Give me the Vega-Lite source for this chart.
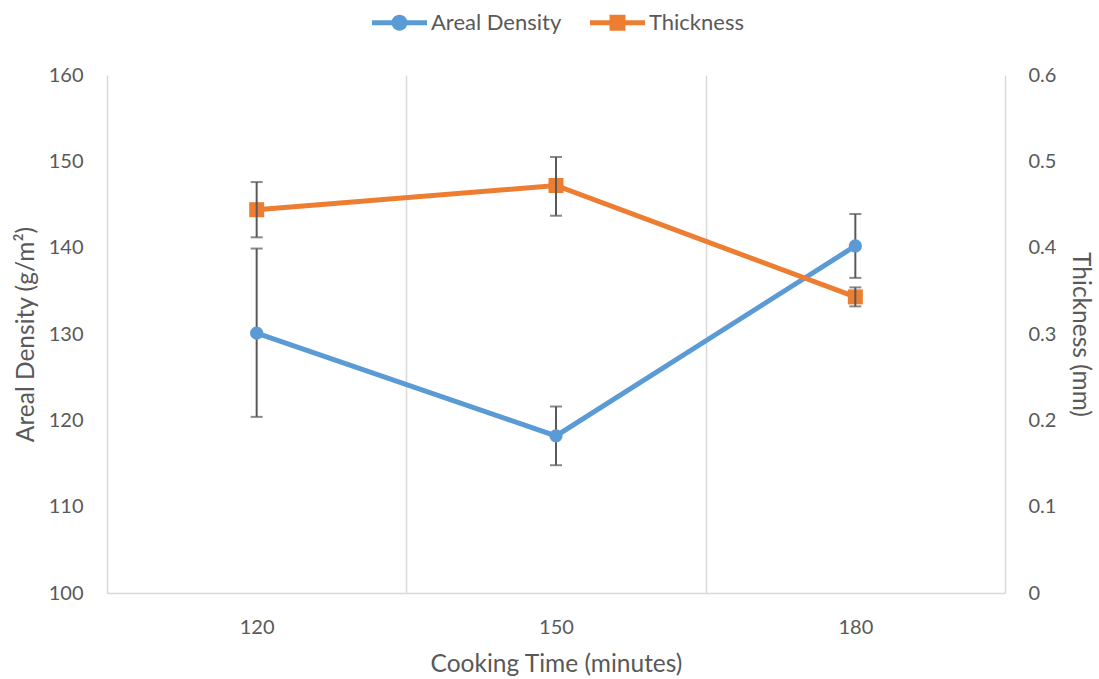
{
  "$schema": "https://vega.github.io/schema/vega-lite/v6.json",
  "width": 898,
  "height": 518,
  "autosize": "none",
  "padding": {"left": 107, "top": 75, "right": 94, "bottom": 86},
  "background": "white",
  "config": {
    "font": "Lato",
    "view": {"stroke": null},
    "axis": {
      "labelColor": "#595959",
      "titleColor": "#595959",
      "labelFontSize": 20,
      "titleFontSize": 24.5,
      "titleFontWeight": "normal",
      "labelFont": "Lato",
      "titleFont": "Lato"
    }
  },
  "data": {
    "values": [
      {"time": 120, "series": "Areal Density", "value": 130.1, "lo": 120.4, "hi": 139.9},
      {"time": 150, "series": "Areal Density", "value": 118.2, "lo": 114.8, "hi": 121.6},
      {"time": 180, "series": "Areal Density", "value": 140.2, "lo": 136.5, "hi": 143.9},
      {"time": 120, "series": "Thickness", "value": 0.444, "lo": 0.412, "hi": 0.476},
      {"time": 150, "series": "Thickness", "value": 0.472, "lo": 0.437, "hi": 0.505},
      {"time": 180, "series": "Thickness", "value": 0.343, "lo": 0.332, "hi": 0.354}
    ]
  },
  "encoding": {
    "x": {
      "field": "time",
      "type": "quantitative",
      "scale": {"domain": [105, 195], "nice": false, "zero": false},
      "axis": {
        "title": "Cooking Time (minutes)",
        "values": [105, 120, 135, 150, 165, 180, 195],
        "labelExpr": "datum.value % 30 == 0 ? datum.label : ''",
        "ticks": false,
        "grid": true,
        "gridColor": "#D9D9D9",
        "gridWidth": 1.5,
        "gridOpacity": {"condition": {"test": "datum.value % 30 == 15", "value": 1}, "value": 0},
        "domainColor": "#D9D9D9",
        "domainWidth": 1.5,
        "labelPadding": 24,
        "titlePadding": 15
      }
    }
  },
  "layer": [
    {
      "transform": [{"filter": "datum.series == 'Areal Density'"}],
      "encoding": {
        "y": {
          "field": "value",
          "type": "quantitative",
          "scale": {"domain": [100, 160], "nice": false, "zero": false},
          "axis": {
            "title": "Areal Density (g/m²)",
            "orient": "left",
            "values": [100, 110, 120, 130, 140, 150, 160],
            "domain": false,
            "ticks": false,
            "grid": false,
            "labelPadding": 24,
            "titlePadding": 10
          }
        }
      },
      "layer": [
        {
          "mark": {"type": "line", "color": "#5B9BD5", "strokeWidth": 5},
          "encoding": {}
        },
        {
          "mark": {"type": "errorbar", "color": "#595959", "thickness": 2, "ticks": {"size": 12}},
          "encoding": {
            "y": {"field": "lo", "type": "quantitative"},
            "y2": {"field": "hi"}
          }
        },
        {
          "mark": {"type": "point", "shape": "circle", "filled": true, "opacity": 1, "size": 177},
          "encoding": {
            "color": {
              "field": "series",
              "type": "nominal",
              "scale": {"domain": ["Areal Density", "Thickness"], "range": ["#5B9BD5", "#ED7D31"]},
              "legend": {
                "orient": "none",
                "legendX": 265,
                "legendY": -80,
                "direction": "horizontal",
                "title": null,
                "labelFontSize": 22,
                "labelFont": "Lato",
                "labelColor": "#595959",
                "symbolSize": 3025,
                "symbolStrokeWidth": 0,
                "symbolOpacity": 1,
                "labelOffset": 4,
                "columnPadding": 28,
                "encode": {
                  "symbols": {
                    "update": {
                      "shape": {"signal": "datum.value === 'Thickness' ? 'M-1,-0.09 H-0.29 V0.09 H-1 Z M0.29,-0.09 H1 V0.09 H0.29 Z M-0.29,-0.29 H0.29 V0.29 H-0.29 Z' : 'M-1,-0.09 H-0.27 V0.09 H-1 Z M0.27,-0.09 H1 V0.09 H0.27 Z M0.29,0 A0.29,0.29 0 1 1 -0.29,0 A0.29,0.29 0 1 1 0.29,0 Z'"}
                    }
                  }
                }
              }
            }
          }
        }
      ]
    },
    {
      "transform": [{"filter": "datum.series == 'Thickness'"}],
      "encoding": {
        "y": {
          "field": "value",
          "type": "quantitative",
          "scale": {"domain": [0, 0.6], "nice": false, "zero": false},
          "axis": {
            "title": "Thickness (mm)",
            "orient": "right",
            "values": [0, 0.1, 0.2, 0.3, 0.4, 0.5, 0.6],
            "format": ".1~f",
            "domain": false,
            "ticks": false,
            "grid": false,
            "labelPadding": 23,
            "titlePadding": 12
          }
        }
      },
      "layer": [
        {
          "mark": {"type": "line", "color": "#ED7D31", "strokeWidth": 5},
          "encoding": {}
        },
        {
          "mark": {"type": "point", "shape": "square", "filled": true, "opacity": 1, "size": 225},
          "encoding": {
            "color": {"field": "series", "type": "nominal"}
          }
        },
        {
          "mark": {"type": "errorbar", "color": "#595959", "thickness": 2, "ticks": {"size": 12}},
          "encoding": {
            "y": {"field": "lo", "type": "quantitative"},
            "y2": {"field": "hi"}
          }
        }
      ]
    }
  ],
  "resolve": {"scale": {"y": "independent"}}
}
